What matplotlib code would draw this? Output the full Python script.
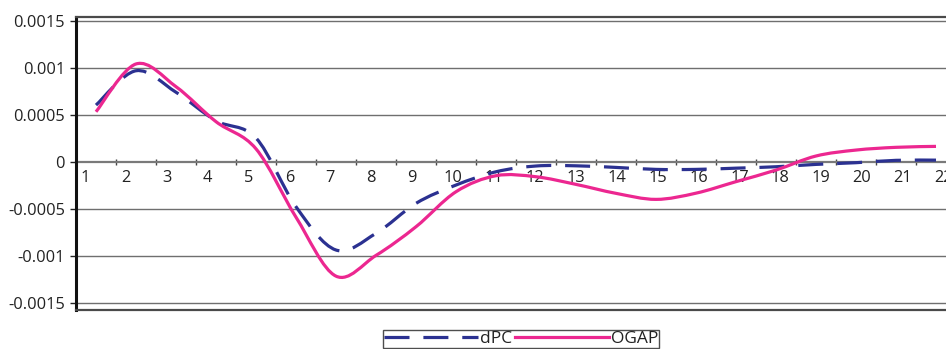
import matplotlib
matplotlib.use("Agg")
import matplotlib.pyplot as plt
from matplotlib.path import Path
from matplotlib.patches import PathPatch
from matplotlib.lines import Line2D
import numpy as np

plt.rcParams['font.family'] = ['Open Sans', 'DejaVu Sans']
plt.rcParams['lines.scale_dashes'] = False

# ---- data ----
periods = list(range(1, 23))
dpc = [0.000604, 0.000968, 0.000740, 0.000438, 0.000255, -0.000474, -0.000933,
       -0.000756, -0.000438, -0.000244, -0.000103, -0.000042, -0.000040, -0.000057,
       -0.000078, -0.000078, -0.000065, -0.000050, -0.000025, -0.000007, 0.000018,
       0.000020]
ogap = [0.000533, 0.001040, 0.000799, 0.000428, 0.000140, -0.000585, -0.001210,
        -0.000990, -0.000686, -0.000315, -0.000145, -0.000156, -0.000237, -0.000332,
        -0.000396, -0.000330, -0.000208, -0.000085, 0.000064, 0.000127, 0.000156,
        0.000166]
series_names = ["dPC", "OGAP"]
ytick_vals = [0.0015, 0.001, 0.0005, 0, -0.0005, -0.001, -0.0015]
ytick_text = ["0.0015", "0.001", "0.0005", "0", "-0.0005", "-0.001", "-0.0015"]

BLUE = "#2B3191"
PINK = "#EC2790"


def smooth_path(x, y):
    """Excel-like smoothed line as a cubic Bezier path through the data points."""
    x = np.asarray(x, float)
    y = np.asarray(y, float)
    n = len(x)
    verts = [(x[0], y[0])]
    codes = [Path.MOVETO]
    for i in range(n - 1):
        p0 = np.array([x[max(i - 1, 0)], y[max(i - 1, 0)]])
        p1 = np.array([x[i], y[i]])
        p2 = np.array([x[i + 1], y[i + 1]])
        p3 = np.array([x[min(i + 2, n - 1)], y[min(i + 2, n - 1)]])
        c1 = p1 + (p2 - p0) / 6.0
        c2 = p2 - (p3 - p1) / 6.0
        verts += [tuple(c1), tuple(c2), tuple(p2)]
        codes += [Path.CURVE4] * 3
    return Path(verts, codes)


fig = plt.figure(figsize=(9.46, 3.49), dpi=100)
ax = fig.add_axes([76 / 946, 1 - 310 / 349, 880 / 946, 293 / 349])

ylo, yhi = -0.001569, 0.001538
ax.set_xlim(0.5, 22.5)
ax.set_ylim(ylo, yhi)

dash = (0, (18, 10))
ax.add_patch(PathPatch(smooth_path(periods, dpc), fill=False, edgecolor=BLUE,
                       lw=2.3, linestyle=dash, capstyle='butt', zorder=3))
ax.add_patch(PathPatch(smooth_path(periods, ogap), fill=False, edgecolor=PINK,
                       lw=2.3, zorder=4))

# gridlines
for v in ytick_vals:
    if v != 0:
        ax.axhline(v, color="#6f6f6f", lw=1.0, zorder=1)

# y axis
ax.set_yticks(ytick_vals)
ax.set_yticklabels(ytick_text)
ax.tick_params(axis='y', direction='out', length=4, width=1, color="#222222",
               labelsize=11.8, labelcolor="#222222", pad=4)
ax.set_xticks([])

for side in ['top', 'bottom']:
    ax.spines[side].set_color("#4a4a4a")
    ax.spines[side].set_linewidth(1.6)
ax.spines['left'].set_color("#111111")
ax.spines['left'].set_linewidth(2.2)
ax.spines['right'].set_visible(False)

zero_frac = (0 - ylo) / (yhi - ylo)

# zero axis with tick marks at category boundaries
zax = ax.secondary_xaxis(zero_frac)
zax.set_alignment('bottom')
zax.set_xticks([k + 0.5 for k in periods[:-1]])
zax.set_xticklabels([])
zax.tick_params(axis='x', direction='inout', length=5, width=1, color="#444444")
zax.spines['bottom'].set_color("#7a7a7a")
zax.spines['bottom'].set_linewidth(1.6)
zax.spines['bottom'].set_zorder(2)

# category labels (Excel spaces them slightly wider than the categories)
def to_lab(x):
    return (40.0 * np.asarray(x, float) + 11.9) / 40.9


def from_lab(j):
    return (40.9 * np.asarray(j, float) - 11.9) / 40.0


lax = ax.secondary_xaxis(zero_frac, functions=(to_lab, from_lab))
lax.set_alignment('bottom')
lax.set_xticks(periods)
lax.set_xticklabels([str(p) for p in periods])
lax.tick_params(axis='x', length=0, labelsize=11.8, labelcolor="#222222", pad=6)
lax.spines['bottom'].set_visible(False)

handles = [Line2D([], [], color=BLUE, lw=2.3, linestyle=dash),
           Line2D([], [], color=PINK, lw=2.3)]
leg = fig.legend(handles, series_names, loc='lower center',
                 bbox_to_anchor=(521 / 946, 0.0), ncol=2, frameon=True,
                 fancybox=False, edgecolor="#222222", fontsize=12.5,
                 handlelength=5.4, handletextpad=0.1, columnspacing=0.2,
                 borderpad=0.05, borderaxespad=0.05)
leg.get_frame().set_linewidth(1.0)
for t in leg.get_texts():
    t.set_color("#222222")

fig.savefig("out.png", dpi=100)
